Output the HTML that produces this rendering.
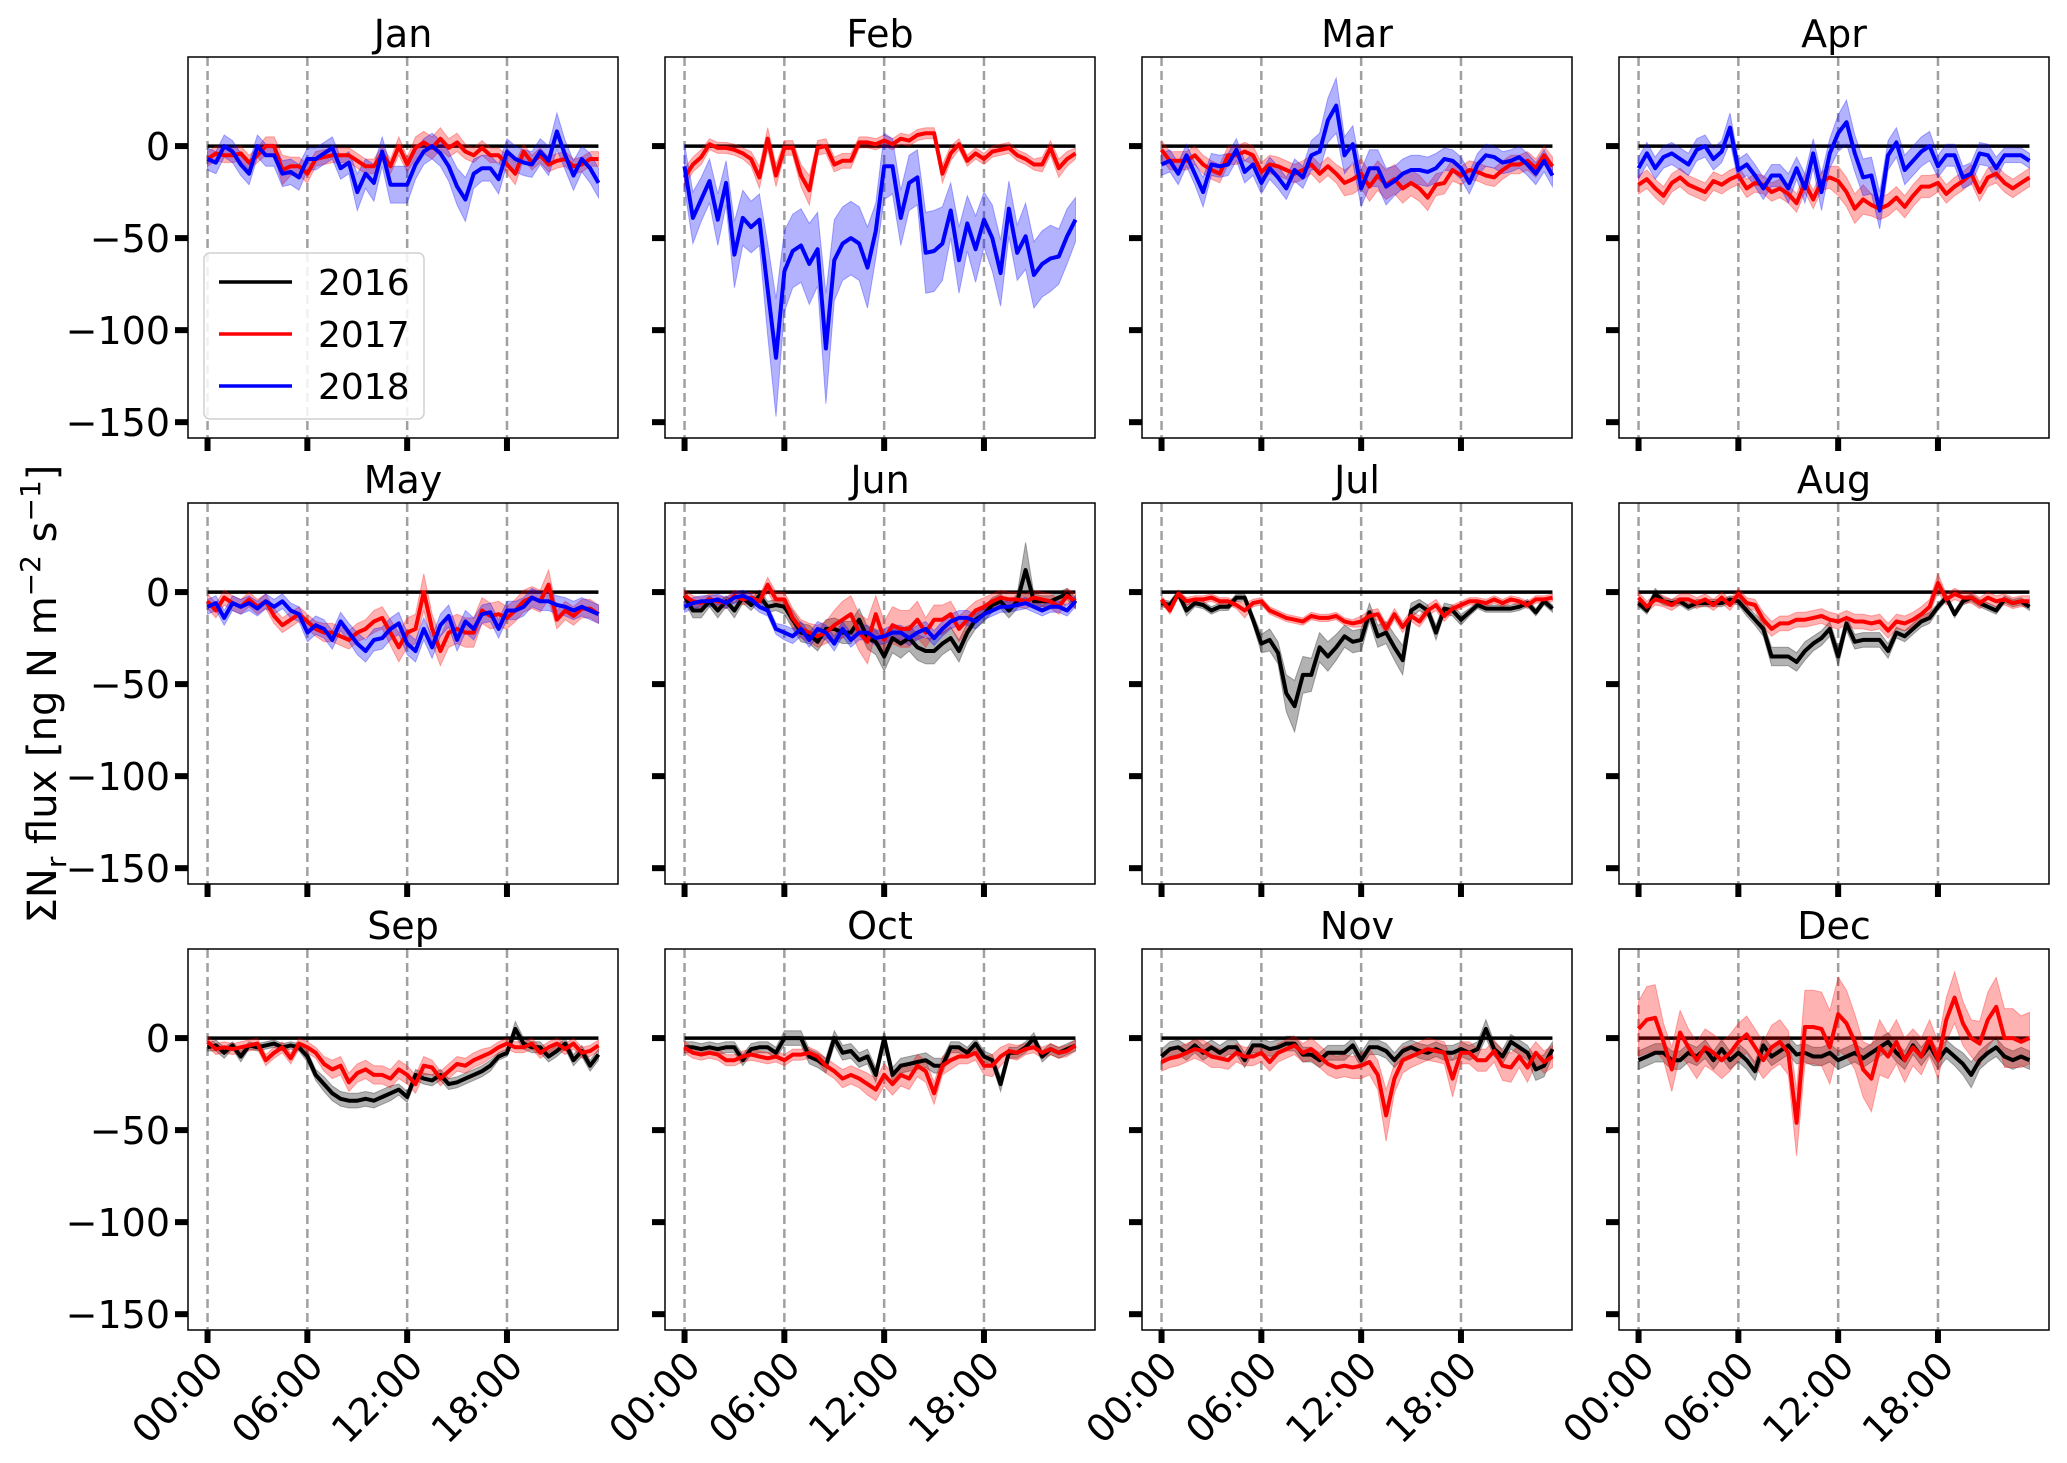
<!DOCTYPE html>
<html><head><meta charset="utf-8"><style>
html,body{margin:0;padding:0;background:#fff;}
svg{display:block;font-family:"DejaVu Sans","Liberation Sans",sans-serif;}
</style></head><body>
<svg id="fig" width="2067" height="1463" viewBox="0 0 2067 1463" xmlns="http://www.w3.org/2000/svg">
<text transform="translate(56,694) rotate(-90)" text-anchor="middle" font-size="40">ΣN<tspan font-size="28" dy="10">r</tspan><tspan dy="-10"> flux [ng N m</tspan><tspan font-size="28" dy="-16">−2</tspan><tspan dy="16"> s</tspan><tspan font-size="28" dy="-16">−1</tspan><tspan dy="16">]</tspan></text>
</svg>
<script>
const months = ["Jan","Feb","Mar","Apr","May","Jun","Jul","Aug","Sep","Oct","Nov","Dec"];
const yTicks = [0,-50,-100,-150];
const yTickLabels = ["0","−50","−100","−150"];
const xTicks = [0,6,12,18];
const xTickLabels = ["00:00","06:00","12:00","18:00"];
const years = ["2016","2017","2018"];
const v2016 = {
Jun:[-2,-10,-10,-5,-10,-5,-10,-3,-7,-2,-8,-7,-8,-15,-22,-23,-27,-20,-20,-22,-22,-15,-25,-27,-35,-25,-28,-25,-30,-32,-32,-28,-25,-32,-22,-15,-12,-7,-5,-10,-5,12,-5,-5,-5,-3,-1,-6],
Jul:[-6,-7,-1,-10,-6,-7,-10,-8,-8,-3,-3,-15,-28,-26,-33,-55,-62,-45,-45,-30,-35,-30,-24,-27,-26,-11,-24,-22,-30,-37,-10,-7,-10,-22,-9,-10,-15,-11,-7,-9,-9,-9,-9,-8,-6,-11,-5,-9],
Aug:[-6,-10,-1,-5,-6,-5,-8,-6,-6,-6,-6,-4,-5,-10,-15,-20,-35,-35,-35,-38,-32,-28,-25,-20,-35,-17,-27,-26,-26,-26,-32,-22,-24,-20,-16,-14,-8,-3,-12,-5,-3,-6,-8,-10,-4,-6,-5,-8],
Sep:[-5,-4,-8,-4,-10,-4,-5,-4,-3,-5,-4,-5,-10,-20,-25,-30,-33,-34,-34,-33,-34,-32,-30,-28,-32,-20,-22,-23,-20,-25,-24,-22,-20,-18,-15,-10,-8,5,-3,-5,-5,-10,-7,-3,-12,-7,-15,-9],
Oct:[-5,-5,-6,-5,-6,-5,-5,-12,-6,-5,-5,-8,0,0,0,-10,-12,-15,0,-8,-7,-12,-10,-20,0,-20,-15,-14,-13,-12,-15,-15,-5,-5,-8,-3,-10,-12,-25,-8,-8,-5,0,-10,-6,-8,-6,-4],
Nov:[-10,-6,-5,-8,-4,-8,-5,-8,-5,-5,-12,-4,-4,-6,-5,-3,-3,-9,-9,-12,-8,-8,-8,-4,-12,-5,-5,-7,-12,-7,-5,-7,-8,-6,-8,-8,-6,-8,-6,5,-6,-10,-2,-5,-8,-17,-15,-6],
Dec:[-12,-10,-8,-8,-12,-12,-8,-10,-6,-12,-6,-12,-8,-12,-18,-4,-10,-7,-4,-9,-8,-10,-10,-8,-12,-10,-8,-11,-8,-5,-2,-8,-12,-4,-10,-4,-12,-6,-10,-14,-20,-12,-8,-5,-10,-12,-10,-12]
};
const v2017 = {
Jan:[-7,-4,-5,-5,-4,-9,-5,0,0,-13,-11,-11,-15,-7,-6,-5,-5,-5,-8,-11,-11,-4,-11,0,-10,-1,2,-1,4,-1,2,-3,-5,-1,-5,-5,-10,-15,-3,-9,-5,-10,-8,-7,-11,-10,-7,-7],
Feb:[-17,-10,-6,1,-1,-1,-2,-4,-7,-17,4,-16,-1,-1,-16,-24,-1,0,-10,-8,-8,2,2,1,3,1,4,3,6,7,7,-15,-4,1,-8,-4,-7,-3,-2,-1,-5,-7,-10,-10,-1,-12,-7,-4],
Mar:[-2,-8,-8,-8,-5,-10,-13,-15,-5,-5,-3,-5,-14,-10,-11,-13,-15,-13,-10,-15,-11,-15,-20,-18,-15,-22,-16,-21,-18,-23,-20,-23,-28,-21,-20,-13,-16,-13,-14,-16,-17,-13,-10,-10,-8,-12,-5,-11],
Apr:[-21,-18,-23,-27,-20,-17,-21,-23,-25,-19,-21,-18,-16,-23,-20,-21,-25,-23,-26,-31,-20,-29,-19,-17,-19,-25,-34,-29,-32,-34,-32,-28,-33,-27,-22,-22,-20,-26,-22,-19,-15,-25,-17,-15,-20,-23,-20,-17],
May:[-5,-10,-3,-6,-8,-4,-8,-5,-13,-18,-15,-12,-16,-20,-22,-22,-24,-26,-22,-20,-16,-14,-22,-30,-22,-20,0,-20,-32,-22,-20,-22,-22,-10,-13,-12,-14,-10,-5,-3,-5,4,-15,-10,-13,-9,-9,-12],
Jun:[-2,-5,-6,-4,-5,-6,-2,-4,-3,-5,4,-4,-4,-14,-20,-22,-24,-22,-18,-15,-12,-22,-27,-12,-26,-18,-20,-20,-15,-22,-15,-15,-12,-20,-15,-10,-8,-5,-3,-4,-4,-5,-3,-4,-5,-8,-2,-5],
Jul:[-4,-10,-1,-5,-4,-4,-3,-5,-5,-7,-10,-6,-5,-10,-12,-14,-15,-16,-13,-14,-14,-13,-16,-17,-16,-13,-12,-20,-12,-19,-13,-16,-10,-7,-13,-9,-7,-5,-5,-6,-4,-6,-4,-5,-7,-4,-4,-3],
Aug:[-3,-8,-4,-5,-7,-4,-4,-6,-4,-7,-3,-7,-1,-6,-7,-15,-20,-17,-17,-15,-15,-14,-13,-15,-16,-14,-16,-16,-17,-16,-21,-16,-17,-15,-12,-8,5,-4,-1,-3,-3,-6,-3,-5,-4,-6,-5,-5],
Sep:[-2,-6,-5,-6,-5,-4,-3,-12,-8,-5,-11,-3,-5,-8,-14,-17,-15,-24,-19,-17,-20,-20,-22,-17,-20,-25,-15,-16,-22,-18,-14,-15,-12,-10,-8,-5,-3,-5,-5,-3,-8,-5,-3,-6,-3,-8,-7,-4],
Oct:[-5,-8,-9,-8,-9,-12,-12,-10,-9,-10,-11,-10,-12,-9,-9,-8,-10,-15,-18,-22,-20,-22,-25,-28,-20,-25,-20,-22,-15,-18,-30,-15,-12,-10,-10,-8,-15,-15,-10,-7,-8,-6,-5,-8,-6,-8,-7,-4],
Nov:[-13,-11,-10,-8,-6,-7,-10,-11,-12,-8,-10,-10,-8,-13,-8,-6,-4,-8,-6,-10,-14,-16,-15,-16,-15,-13,-20,-42,-22,-12,-10,-8,-6,-7,-8,-22,-8,-8,-12,-12,-7,-15,-16,-10,-16,-8,-13,-10],
Dec:[5,10,11,-2,-17,3,-5,-12,-5,-8,-12,-8,-2,2,-5,-12,-5,-2,-8,-46,6,6,5,-5,13,8,-2,-17,-22,-5,-10,-2,-12,-5,-10,0,-12,10,22,8,0,-3,10,17,0,0,-2,0]
};
const v2018 = {
Jan:[-7,-9,0,-3,-10,-15,0,-5,-5,-15,-14,-17,-7,-7,-4,-1,-12,-9,-25,-15,-20,-3,-21,-21,-21,-10,-3,0,-4,-11,-22,-29,-15,-12,-12,-18,-3,-7,-9,-10,-3,-8,8,-5,-16,-7,-12,-20],
Feb:[-11,-39,-29,-19,-40,-20,-59,-39,-44,-40,-78,-115,-68,-57,-54,-64,-56,-110,-62,-53,-50,-53,-66,-46,-11,-11,-39,-20,-17,-58,-57,-53,-35,-62,-42,-56,-40,-50,-69,-34,-58,-49,-70,-64,-61,-60,-49,-40],
Mar:[-10,-8,-15,-5,-15,-25,-10,-11,-10,-2,-14,-10,-20,-12,-17,-23,-13,-17,-5,-3,14,22,-5,1,-23,-12,-12,-22,-19,-15,-13,-13,-14,-12,-7,-8,-12,-20,-10,-5,-6,-9,-8,-6,-10,-15,-8,-16],
Apr:[-12,-4,-12,-6,-4,-7,-10,-2,0,-7,-3,10,-13,-10,-16,-23,-16,-16,-23,-12,-23,-4,-25,-4,7,13,-4,-17,-16,-35,-5,2,-13,-8,-3,0,-11,-5,-5,-17,-15,-4,-5,-12,-5,-5,-5,-8],
May:[-8,-6,-14,-6,-8,-6,-9,-5,-8,-5,-10,-12,-22,-18,-20,-26,-16,-22,-28,-32,-26,-25,-20,-17,-28,-32,-20,-30,-18,-13,-26,-16,-20,-12,-11,-20,-10,-10,-8,-3,-5,-5,-7,-8,-10,-8,-10,-12],
Jun:[-8,-6,-5,-5,-4,-6,-3,-2,-4,-8,-10,-20,-22,-24,-20,-26,-20,-22,-28,-20,-26,-22,-22,-25,-24,-22,-22,-25,-22,-20,-25,-20,-16,-14,-14,-16,-12,-10,-8,-8,-7,-6,-8,-10,-8,-8,-10,-5]
};
const e2016 = {
Jun:[3,4,4,3,4,3,4,3,3,3,3,3,4,5,5,5,5,5,6,6,6,6,6,7,8,8,8,7,7,7,7,6,6,6,5,5,4,4,4,4,4,15,4,3,3,3,3,3],
Jul:[2,2,2,3,2,2,2,2,2,2,2,3,5,6,6,10,14,10,9,8,8,7,6,6,6,5,6,6,7,8,4,3,3,4,3,3,3,2,2,2,2,2,2,2,2,2,2,2],
Aug:[2,2,3,2,2,2,2,2,2,2,2,2,2,3,3,4,5,5,5,5,5,4,4,4,5,4,4,4,4,4,4,3,3,3,3,3,2,2,2,2,2,2,2,2,2,2,2,2],
Sep:[2,3,3,2,3,2,2,2,2,2,2,2,3,3,4,4,4,4,4,4,4,4,4,3,3,3,3,3,3,3,3,3,3,3,3,2,2,4,3,3,3,3,3,3,3,3,3,3],
Oct:[3,3,3,3,3,3,3,3,3,3,3,3,4,4,4,4,4,4,4,4,4,4,4,4,4,4,4,4,4,4,4,4,3,3,3,3,3,3,4,3,3,3,3,3,3,3,3,3],
Nov:[4,4,4,4,4,4,4,4,4,4,4,4,4,4,4,4,4,4,4,4,4,4,4,4,4,4,4,4,4,4,4,4,4,4,4,4,4,4,4,5,4,4,4,4,4,6,6,4],
Dec:[5,5,5,5,5,5,5,5,5,5,5,5,5,5,5,5,5,5,5,5,5,5,5,5,5,5,5,5,5,5,5,5,5,5,5,5,5,5,5,6,7,5,5,5,5,5,5,5]
};
const e2017 = {
Jan:[4,4,4,4,4,4,4,5,5,8,5,5,5,4,4,4,4,4,4,4,4,4,4,5,4,6,6,6,6,5,5,4,4,4,4,4,5,6,4,4,4,4,4,4,4,4,4,4],
Feb:[5,4,4,3,3,3,3,3,4,6,6,6,4,4,6,8,4,4,4,4,4,3,3,3,3,3,3,3,3,3,3,5,4,3,3,3,3,3,3,3,3,3,3,4,4,5,4,3],
Mar:[5,5,5,5,5,5,5,5,5,5,5,5,5,5,5,5,5,5,5,5,5,5,7,8,8,8,8,8,8,8,7,7,7,6,6,6,5,5,5,5,5,5,5,5,5,5,5,5],
Apr:[5,5,5,5,5,5,5,5,5,5,5,5,5,5,5,5,5,5,5,5,5,5,5,6,8,8,8,8,6,6,6,6,6,6,6,6,5,5,5,5,5,5,5,5,5,5,5,5],
May:[4,4,4,4,4,4,4,4,4,4,4,4,4,4,5,5,5,5,5,5,6,6,7,8,8,8,10,8,8,8,8,8,8,7,7,7,6,6,6,6,6,8,5,5,5,5,5,5],
Jun:[3,3,3,3,3,3,3,3,3,3,4,4,4,5,5,5,6,6,8,10,10,10,12,10,10,10,10,10,10,8,8,8,7,7,6,5,5,4,4,4,4,4,4,4,4,4,4,4],
Jul:[2,2,2,2,2,2,2,2,2,2,4,2,2,2,2,2,2,2,2,2,2,2,2,2,3,3,3,3,3,3,3,3,3,3,3,2,2,2,2,2,2,2,2,2,2,2,2,2],
Aug:[3,3,3,3,3,3,3,3,3,3,3,3,3,3,3,4,4,4,4,4,4,4,4,4,4,4,4,4,4,4,4,4,4,4,4,4,5,3,3,3,3,3,3,3,3,3,3,3],
Sep:[3,3,3,3,3,3,3,3,3,3,3,3,3,3,4,5,5,5,5,5,5,5,5,5,5,5,5,4,4,4,4,4,4,4,3,3,3,3,3,3,3,3,3,3,3,3,3,3],
Oct:[3,3,3,3,3,3,3,3,3,3,3,3,3,3,3,3,3,4,4,5,5,5,6,6,6,6,6,6,6,6,6,5,5,4,4,4,5,6,5,4,4,3,3,3,3,3,3,3],
Nov:[5,5,5,5,5,6,6,5,5,5,5,5,5,5,5,5,5,5,6,6,6,6,6,6,7,7,8,14,8,7,6,6,6,6,6,10,6,6,6,6,6,8,8,6,8,6,6,6],
Dec:[15,18,18,10,12,12,10,10,10,10,10,10,10,10,10,10,12,12,12,18,20,20,20,20,20,18,15,15,18,15,12,12,12,10,10,10,10,12,14,12,10,12,15,16,16,16,14,14]
};
const e2018 = {
Jan:[6,6,6,6,6,6,6,6,6,7,7,7,6,6,6,6,6,6,10,8,10,8,10,10,10,8,7,7,7,8,10,12,8,7,7,8,7,7,7,7,7,8,10,8,8,7,8,8],
Feb:[12,14,12,12,14,12,18,15,14,14,25,32,22,20,20,22,20,30,22,20,20,20,22,15,18,15,15,15,15,22,22,20,15,18,15,18,15,18,18,15,15,18,18,18,18,15,15,12],
Mar:[6,6,6,6,6,8,6,6,6,6,6,6,6,6,6,6,6,6,8,10,12,15,10,10,10,10,10,10,8,8,8,8,8,8,6,6,6,6,6,6,6,6,6,6,6,6,6,6],
Apr:[6,6,6,6,6,6,6,6,6,6,6,8,6,6,6,6,6,6,8,6,8,8,10,8,10,12,10,10,10,10,8,8,8,8,8,8,6,6,6,6,6,6,6,6,4,4,4,4],
May:[4,4,4,4,4,4,4,4,4,4,4,4,5,5,5,5,5,5,6,6,6,6,6,6,6,6,6,6,6,6,6,6,6,5,5,5,5,5,5,5,5,5,5,5,5,5,5,5],
Jun:[3,3,3,3,3,3,3,3,3,3,3,3,4,4,4,4,4,4,4,4,4,4,4,4,4,4,4,4,4,4,4,4,4,4,4,4,3,3,3,3,3,3,3,3,3,3,3,3]
};

const NS = "http://www.w3.org/2000/svg";
const svg = document.getElementById("fig");
const L0 = 188, COLSP = 477, AW = 430, T0 = 57, ROWSP = 446, AH = 381;
const YMIN = -158.6, YMAX = 48.4, XMIN = -1.175, XMAX = 24.675;
function mk(tag, attrs, parent) {
  const el = document.createElementNS(NS, tag);
  for (const k in attrs) el.setAttribute(k, attrs[k]);
  (parent || svg).appendChild(el);
  return el;
}
const styles = {
  "2016": {line: "#000000", fill: "rgba(0,0,0,0.3)"},
  "2017": {line: "#ff0000", fill: "rgba(255,0,0,0.3)"},
  "2018": {line: "#0000ff", fill: "rgba(0,0,255,0.3)"}
};
months.forEach((m, idx) => {
  const col = idx % 4, row = Math.floor(idx / 4);
  const ax = L0 + col * COLSP, ay = T0 + row * ROWSP;
  const xs = h => ax + (h - XMIN) / (XMAX - XMIN) * AW;
  const ys = v => ay + (YMAX - v) / (YMAX - YMIN) * AH;
  const g = mk("g", {});
  
  
  const clipId = "clip" + idx;
  const cp = mk("clipPath", {id: clipId}, g);
  mk("rect", {x: ax, y: ay, width: AW, height: AH}, cp);
  const t = mk("text", {x: ax + AW / 2, y: ay - 10, "text-anchor": "middle", "font-size": "38"}, g);
  t.textContent = m;
  
  
  xTicks.forEach(h => {
    const l = mk("line", {x1: xs(h), x2: xs(h), y1: ay, y2: ay + AH, stroke: "#a0a0a0", "stroke-width": 2.5, "stroke-dasharray": "9,5"}, g);
    
    
  });
  const plot = mk("g", {"clip-path": "url(#" + clipId + ")"}, g);
  const z = mk("line", {x1: xs(0), x2: xs(23.5), y1: ys(0), y2: ys(0), stroke: "#000", "stroke-width": 3.5}, plot);
  
  
  const sets = [["2016", v2016, e2016], ["2017", v2017, e2017], ["2018", v2018, e2018]];
  sets.forEach(([yr, vals, errs]) => {
    const d = vals[m]; if (!d) return;
    const e = errs[m];
    const up = d.map((v, i) => xs(i * 0.5).toFixed(1) + "," + ys(v + e[i]).toFixed(1));
    const lo = d.map((v, i) => xs(i * 0.5).toFixed(1) + "," + ys(v - e[i]).toFixed(1)).reverse();
    const band = mk("polygon", {points: up.concat(lo).join(" "), fill: styles[yr].fill, stroke: styles[yr].fill, "stroke-width": 1}, plot);
    
    
  });
  sets.forEach(([yr, vals]) => {
    const d = vals[m]; if (!d) return;
    const pl = mk("polyline", {points: d.map((v, i) => xs(i * 0.5).toFixed(1) + "," + ys(v).toFixed(1)).join(" "), fill: "none", stroke: styles[yr].line, "stroke-width": 4, "stroke-linejoin": "round"}, plot);
    
    
  });
  const fr = mk("rect", {x: ax, y: ay, width: AW, height: AH, fill: "none", stroke: "#000", "stroke-width": 1.5}, g);
  
  
  yTicks.forEach((v, i) => {
    const tk = mk("line", {x1: ax - 13, x2: ax, y1: ys(v), y2: ys(v), stroke: "#000", "stroke-width": 6}, g);
    
    
    if (col === 0) {
      const tl = mk("text", {x: ax - 18, y: ys(v) + 14, "text-anchor": "end", "font-size": "38"}, g);
      tl.textContent = yTickLabels[i];
      
      
    }
  });
  xTicks.forEach((h, i) => {
    const tk = mk("line", {x1: xs(h), x2: xs(h), y1: ay + AH, y2: ay + AH + 13, stroke: "#000", "stroke-width": 6}, g);
    
    
    if (row === 2) {
      const tx = xs(h) + 18, ty = ay + AH + 38;
      const tl = mk("text", {x: tx, y: ty, "text-anchor": "end", "font-size": "38", transform: "rotate(-45 " + tx + " " + ty + ")"}, g);
      tl.textContent = xTickLabels[i];
      
      
    }
  });
  if (idx === 0) {
    const lg = mk("g", {}, g);
    
    
    mk("rect", {x: 204, y: 253, width: 220, height: 166, rx: 6, fill: "rgba(255,255,255,0.85)", stroke: "#d0d0d0", "stroke-width": 1.5}, lg);
    years.forEach((yr, i) => {
      const yy = 282 + i * 52;
      const ent = mk("g", {}, lg);
      
      
      mk("line", {x1: 219, x2: 292, y1: yy, y2: yy, stroke: styles[yr].line, "stroke-width": 3.5}, ent);
      const tt = mk("text", {x: 318, y: yy + 13, "font-size": "36"}, ent);
      tt.textContent = yr;
    });
  }
});
</script>
</body></html>
